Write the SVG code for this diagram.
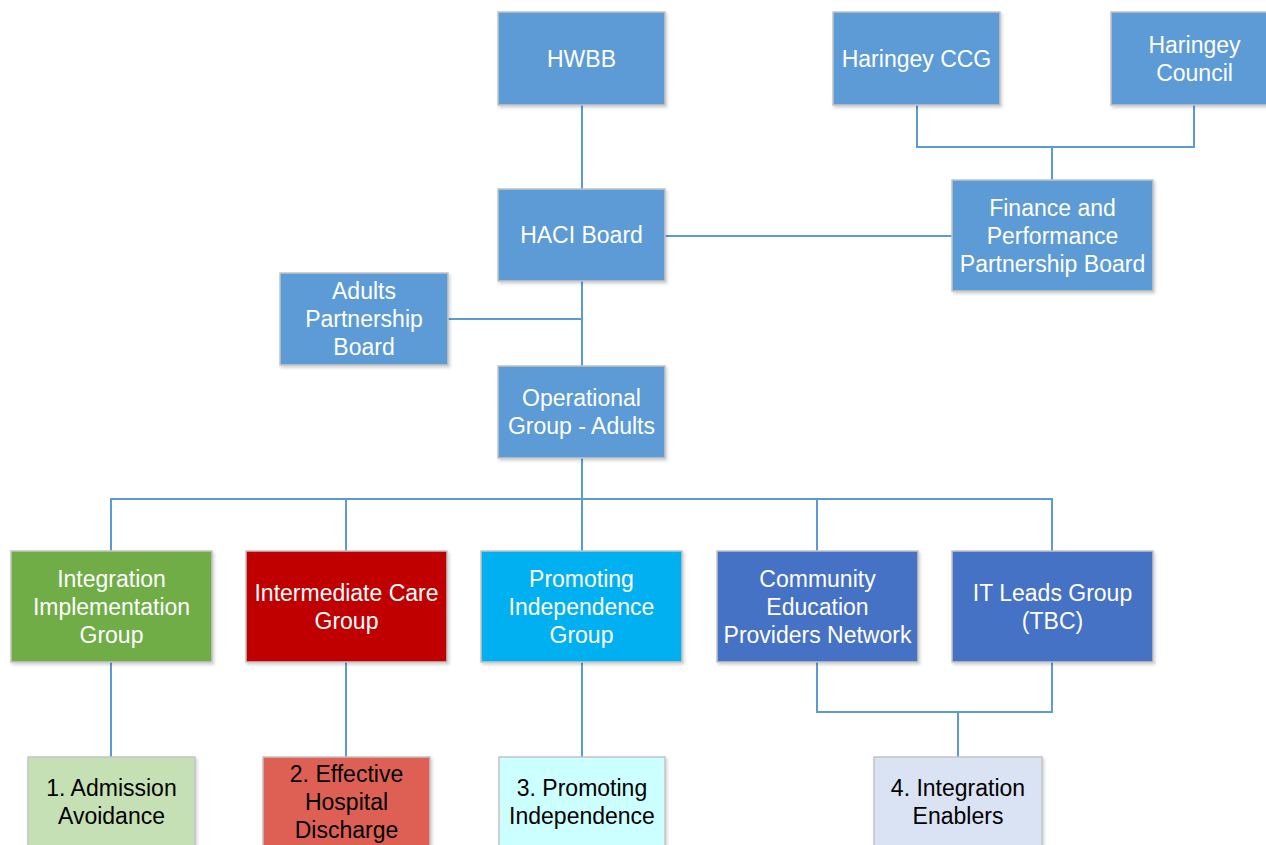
<svg xmlns="http://www.w3.org/2000/svg" width="1266" height="845" viewBox="0 0 1266 845">
<defs>
<filter id="sh" x="-10%" y="-10%" width="125%" height="125%">
<feDropShadow dx="1.5" dy="2" stdDeviation="1.5" flood-color="#000" flood-opacity="0.18"/>
</filter>
<style>
.b{stroke:#C4C4C4;stroke-width:1.5;filter:url(#sh)}
.mid{fill:#5B9BD5}
.t{font-family:"Liberation Sans",Arial,sans-serif;font-size:23px;text-anchor:middle;fill:#FFFFFF}
.k{fill:#000000}
.c{fill:none;stroke:#5B9BD5;stroke-width:2}
</style>
</defs>
<rect width="1266" height="845" fill="#FFFFFF"/>
<g id="connectors">
<path class="c" d="M582 105V189"/>
<path class="c" d="M582 281V366"/>
<path class="c" d="M448 319H582"/>
<path class="c" d="M665 236H952"/>
<path class="c" d="M917 105V147H1194V105"/>
<path class="c" d="M1052 147V180"/>
<path class="c" d="M582 458V551"/>
<path class="c" d="M111 551V499H1052V551"/>
<path class="c" d="M346 499V551"/>
<path class="c" d="M817 499V551"/>
<path class="c" d="M111 662V757"/>
<path class="c" d="M346 662V757"/>
<path class="c" d="M582 662V757"/>
<path class="c" d="M817 662V712H1052V662"/>
<path class="c" d="M958 712V757"/>
</g>
<g id="hwbb"><rect class="b mid" x="498" y="12" width="167" height="93"/><text class="t" x="581.5" y="66.5">HWBB</text></g>
<g id="ccg"><rect class="b mid" x="833" y="12" width="167" height="93"/><text class="t" x="916.5" y="66.5">Haringey CCG</text></g>
<g id="council"><rect class="b mid" x="1111" y="12" width="167" height="93"/><text class="t" x="1194.5" y="52.5">Haringey</text><text class="t" x="1194.5" y="80.5">Council</text></g>
<g id="finance"><rect class="b mid" x="952" y="180" width="201" height="111"/><text class="t" x="1052.5" y="215.5">Finance and</text><text class="t" x="1052.5" y="243.5">Performance</text><text class="t" x="1052.5" y="271.5">Partnership Board</text></g>
<g id="haci"><rect class="b mid" x="498" y="189" width="167" height="92"/><text class="t" x="581.5" y="243">HACI Board</text></g>
<g id="adults"><rect class="b mid" x="280" y="273" width="168" height="92"/><text class="t" x="364" y="299">Adults</text><text class="t" x="364" y="327">Partnership</text><text class="t" x="364" y="355">Board</text></g>
<g id="operational"><rect class="b mid" x="498" y="366" width="167" height="92"/><text class="t" x="581.5" y="406">Operational</text><text class="t" x="581.5" y="434">Group - Adults</text></g>
<g id="integration"><rect class="b" fill="#70AD47" x="11" y="551" width="201" height="111"/><text class="t" x="111.5" y="587">Integration</text><text class="t" x="111.5" y="615">Implementation</text><text class="t" x="111.5" y="643">Group</text></g>
<g id="intermediate"><rect class="b" fill="#C00000" x="246" y="551" width="201" height="111"/><text class="t" x="346.5" y="601">Intermediate Care</text><text class="t" x="346.5" y="629">Group</text></g>
<g id="promoting"><rect class="b" fill="#00B0F0" x="481" y="551" width="201" height="111"/><text class="t" x="581.5" y="587">Promoting</text><text class="t" x="581.5" y="615">Independence</text><text class="t" x="581.5" y="643">Group</text></g>
<g id="community"><rect class="b" fill="#4472C4" x="717" y="551" width="201" height="111"/><text class="t" x="817.5" y="587">Community</text><text class="t" x="817.5" y="615">Education</text><text class="t" x="817.5" y="643">Providers Network</text></g>
<g id="itleads"><rect class="b" fill="#4472C4" x="952" y="551" width="201" height="111"/><text class="t" x="1052.5" y="601">IT Leads Group</text><text class="t" x="1052.5" y="629">(TBC)</text></g>
<g id="admission"><rect class="b" fill="#C5E0B4" x="28" y="757" width="167" height="93"/><text class="t k" x="111.5" y="796">1. Admission</text><text class="t k" x="111.5" y="824">Avoidance</text></g>
<g id="discharge"><rect class="b" fill="#DE6055" x="263" y="757" width="167" height="93"/><text class="t k" x="346.5" y="782">2. Effective</text><text class="t k" x="346.5" y="810">Hospital</text><text class="t k" x="346.5" y="838">Discharge</text></g>
<g id="independence"><rect class="b" fill="#CCFFFF" x="499" y="757" width="166" height="93"/><text class="t k" x="582" y="796">3. Promoting</text><text class="t k" x="582" y="824">Independence</text></g>
<g id="enablers"><rect class="b" fill="#DAE3F3" x="874" y="757" width="168" height="93"/><text class="t k" x="958" y="796">4. Integration</text><text class="t k" x="958" y="824">Enablers</text></g>
</svg>
